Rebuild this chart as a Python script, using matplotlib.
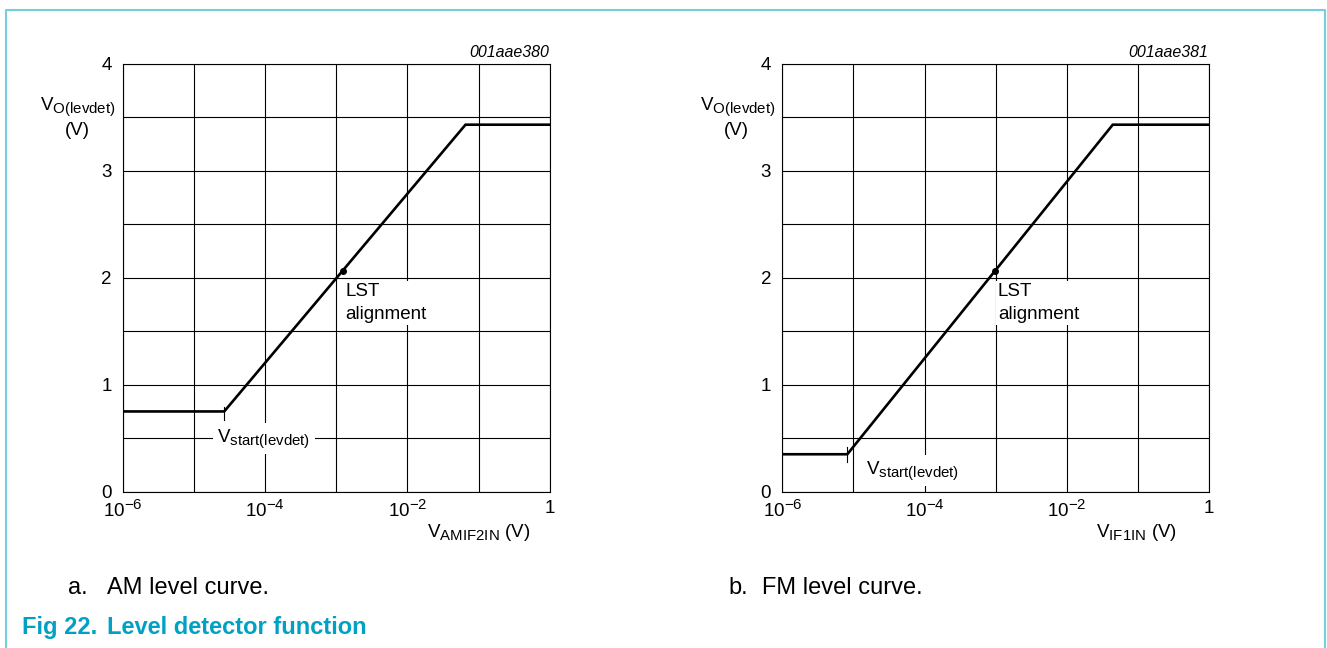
import numpy as np
import matplotlib
matplotlib.use("Agg")
import matplotlib.pyplot as plt
from matplotlib.lines import Line2D
import matplotlib._mathtext as _mt

# bigger subscripts, like the original drawing
_mt.SHRINK_FACTOR = 0.8

plt.rcParams["font.family"] = ["Liberation Sans", "DejaVu Sans"]
plt.rcParams["mathtext.fontset"] = "custom"
plt.rcParams["mathtext.rm"] = "Liberation Sans"
plt.rcParams["mathtext.it"] = "Liberation Sans:italic"
plt.rcParams["mathtext.bf"] = "Liberation Sans:bold"

# curve data
am_x = [1e-6, 2.67e-5, 6.56e-2, 1.0]
am_y = [0.75, 0.75, 3.43, 3.43]
am_lst = (1.23e-3, 2.065)
am_start = 2.67e-5

fm_x = [1e-6, 8.2e-6, 4.4e-2, 1.0]
fm_y = [0.35, 0.35, 3.43, 3.43]
fm_lst = (9.7e-4, 2.065)
fm_start = 8.2e-6

x_major = [1e-6, 1e-4, 1e-2, 1]
x_major_labels = [r"$10^{-6}$", r"$10^{-4}$", r"$10^{-2}$", "1"]
x_minor = [1e-5, 1e-3, 1e-1]
y_major = [0, 1, 2, 3, 4]
y_minor = [0.5, 1.5, 2.5, 3.5]

W, H = 1327, 648
fig = plt.figure(figsize=(W / 100, H / 100), dpi=100)

cyan_line = "#74cfdc"
cyan_text = "#00a1c3"


def px(x0, y0, w, h):
    return [x0 / W, 1 - (y0 + h) / H, w / W, h / H]


panels = [
    dict(left=122.7, x=am_x, y=am_y, lst=am_lst, start=am_start,
         code="001aae380", xlabel=r"V$_{\mathrm{AMIF2IN}}$ (V)", xl_pos=0.954,
         tick=(0.79, 0.67), vs_pos=(0.222, 0.5)),
    dict(left=782.3, x=fm_x, y=fm_y, lst=fm_lst, start=fm_start,
         code="001aae381", xlabel=r"V$_{\mathrm{IF1IN}}$ (V)", xl_pos=0.924,
         tick=(0.42, 0.28), vs_pos=(0.196, 0.2)),
]

for p in panels:
    ax = fig.add_axes(px(p["left"], 63.7, 427, 428))
    ax.set_xscale("log")
    ax.set_xlim(1e-6, 1)
    ax.set_ylim(0, 4)
    ax.set_xticks(x_major)
    ax.set_xticklabels(x_major_labels)
    ax.set_xticks(x_minor, minor=True)
    ax.set_xticklabels([], minor=True)
    ax.set_yticks(y_major)
    ax.set_yticks(y_minor, minor=True)
    ax.tick_params(which="both", length=0, labelsize=13.5)
    ax.tick_params(axis="x", pad=6)
    ax.tick_params(axis="y", pad=8)
    ax.grid(True, which="both", color="black", linewidth=0.8)
    ax.set_axisbelow(True)
    for s in ax.spines.values():
        s.set_linewidth(0.8)

    ax.plot(p["x"], p["y"], color="black", linewidth=1.9, solid_joinstyle="miter", zorder=3)
    ax.plot([p["start"], p["start"]], p["tick"], color="black", linewidth=0.8, zorder=3)
    ax.plot([p["lst"][0]], [p["lst"][1]], "o", color="black", markersize=4, zorder=4)

    ax.text(p["lst"][0] * 1.1, 1.95, "LST\nalignment", fontsize=13.5,
            ha="left", va="top", linespacing=1.45, zorder=5,
            bbox=dict(facecolor="white", edgecolor="none", pad=1.5))

    vs = ax.text(p["vs_pos"][0], p["vs_pos"][1], r"V$_{\mathrm{start(levdet)}}$",
                 transform=ax.get_yaxis_transform(), fontsize=13.5,
                 ha="left", va="center", zorder=5)
    vs.set_bbox(dict(facecolor="white", edgecolor="none", pad=3))

    ax.text(0.998, 1.016, p["code"], transform=ax.transAxes, fontsize=11.5,
            style="italic", ha="right", va="baseline")
    ax.text(-0.016, 0.892, r"V$_{\mathrm{O(levdet)}}$", transform=ax.transAxes,
            fontsize=13.5, ha="right", va="baseline")
    ax.text(-0.107, 0.833, "(V)", transform=ax.transAxes, fontsize=13.5,
            ha="center", va="baseline")
    ax.text(p["xl_pos"], -0.106, p["xlabel"], transform=ax.transAxes,
            fontsize=13.5, ha="right", va="baseline")

# captions
fig.text(68 / W, 1 - 594 / H, "a.", fontsize=17, va="baseline")
fig.text(107 / W, 1 - 594 / H, "AM level curve.", fontsize=17, va="baseline")
fig.text(728 / W, 1 - 594 / H, "b.", fontsize=17, va="baseline")
fig.text(762 / W, 1 - 594 / H, "FM level curve.", fontsize=17, va="baseline")
fig.text(22 / W, 1 - 634 / H, "Fig 22.", fontsize=17, fontweight="bold",
         color=cyan_text, va="baseline")
fig.text(107 / W, 1 - 634 / H, "Level detector function", fontsize=17,
         fontweight="bold", color=cyan_text, va="baseline")

# frame
fig.add_artist(Line2D([5.5 / W, 5.5 / W, 1325 / W, 1325 / W],
                      [0, 1 - 10 / H, 1 - 10 / H, 0],
                      transform=fig.transFigure, color=cyan_line, linewidth=1.5))

fig.savefig("out.png", dpi=100)
